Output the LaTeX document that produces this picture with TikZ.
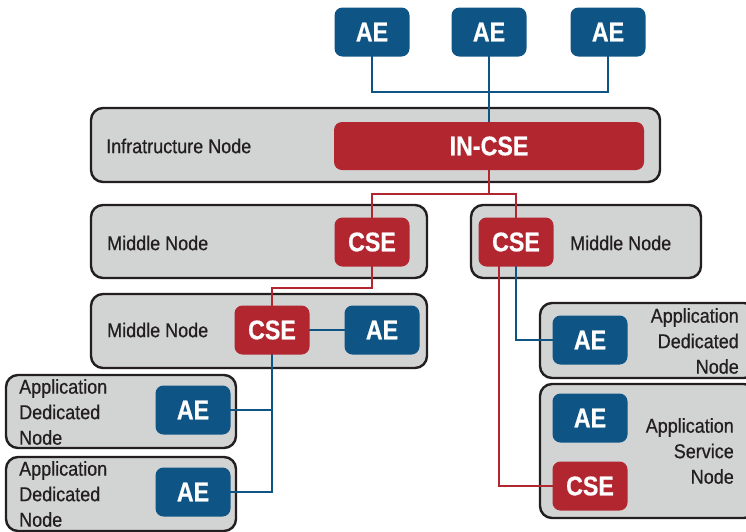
\documentclass[tikz,border=0pt]{standalone}
\usepackage{fontspec}
\setmainfont{Liberation Sans}[FakeStretch=0.82]
\newfontfamily\lblfont{Liberation Sans}[FakeStretch=0.9, FakeBold=0.6]
\newfontfamily\boxfont{Liberation Sans Bold}[FakeStretch=0.86, FakeBold=0.5]
\definecolor{aeblue}{HTML}{0E5585}
\definecolor{csered}{HTML}{B22630}
\definecolor{boxgray}{HTML}{D2D3D3}
\definecolor{boxline}{HTML}{231F20}
\begin{document}
\begin{tikzpicture}[x=1pt,y=-1pt,
  outer/.style={draw=boxline, line width=2.4pt, fill=boxgray, rounded corners=12pt, inner sep=0pt},
  inbox/.style={rounded corners=8pt, inner sep=0pt, text=white, font=\boxfont\fontsize{27}{30}\selectfont, minimum width=75pt, minimum height=49pt},
  aebox/.style={inbox, fill=aeblue},
  csebox/.style={inbox, fill=csered},
  lbl/.style={inner sep=0pt, text=boxline, font=\lblfont\fontsize{20}{25.5}\selectfont},
  blueline/.style={draw=aeblue, line width=2pt},
  redline/.style={draw=csered, line width=2pt}]
\useasboundingbox (0,0) rectangle (746,531);
% outer boxes
\node[outer, minimum width=569pt, minimum height=74pt] (infra) at (375.5,145) {};
\node[outer, minimum width=336pt, minimum height=73pt] (mid1) at (259,241.5) {};
\node[outer, minimum width=230pt, minimum height=73pt] (mid2) at (586,241.5) {};
\node[outer, minimum width=336pt, minimum height=74pt] (mid3) at (259,331) {};
\node[outer, minimum width=230pt, minimum height=73pt] (adn1) at (121,411.5) {};
\node[outer, minimum width=230pt, minimum height=74pt] (adn2) at (121,494) {};
\node[outer, minimum width=216pt, minimum height=75pt] (adn3) at (648,340.5) {};
\node[outer, minimum width=216pt, minimum height=134pt] (asn) at (648,451) {};
% labels
\node[lbl, anchor=west] (linfra) at (106,146) {Infratructure Node};
\node[lbl, anchor=west] (lmid1) at (107,243) {Middle Node};
\node[lbl, anchor=west] (lmid2) at (570,243) {Middle Node};
\node[lbl, anchor=west] (lmid3) at (107,330) {Middle Node};
\node[lbl, anchor=west, align=left] (ladn1) at (19,412) {Application\\Dedicated\\Node};
\node[lbl, anchor=west, align=left] (ladn2) at (19,494) {Application\\Dedicated\\Node};
\node[lbl, anchor=east, align=right] (ladn3) at (739,341) {Application\\Dedicated\\Node};
\node[lbl, anchor=east, align=right] (lasn) at (734,451) {Application\\Service\\Node};
% junction coordinates
\coordinate (tj) at (489,92);
\coordinate (rj) at (489,194);
\coordinate (mj) at (372,288);
% connectors
\draw[blueline] (372,32) |- (tj) -| (608,32);
\draw[blueline] (489,32) -- (489,146);
\draw[redline] (489,146) -- (rj);
\draw[redline] (372,242) |- (rj) -| (516,242);
\draw[redline] (372,242) -- (mj) -| (272,330);
\draw[blueline] (272,330) -- (382,330);
\draw[blueline] (272,330) |- (193,410);
\draw[blueline] (272,330) |- (193,492);
\draw[blueline] (516,242) |- (590,340);
\draw[redline] (499,242) |- (590,486);
% inner boxes
\node[aebox] (ae1) at (372,32) {AE};
\node[aebox] (ae2) at (489,32) {AE};
\node[aebox] (ae3) at (608,32) {AE};
\node[csebox, minimum width=310pt, minimum height=48pt] (incse) at (489,146) {IN-CSE};
\node[csebox] (cse1) at (372,242) {CSE};
\node[csebox] (cse2) at (516,242) {CSE};
\node[csebox] (cse3) at (272,330) {CSE};
\node[aebox] (ae4) at (382,330) {AE};
\node[aebox] (ae5) at (193,410) {AE};
\node[aebox] (ae6) at (193,492) {AE};
\node[aebox] (ae7) at (590,340) {AE};
\node[aebox] (ae8) at (590,418) {AE};
\node[csebox] (cse4) at (590,486) {CSE};
\end{tikzpicture}
\end{document}
